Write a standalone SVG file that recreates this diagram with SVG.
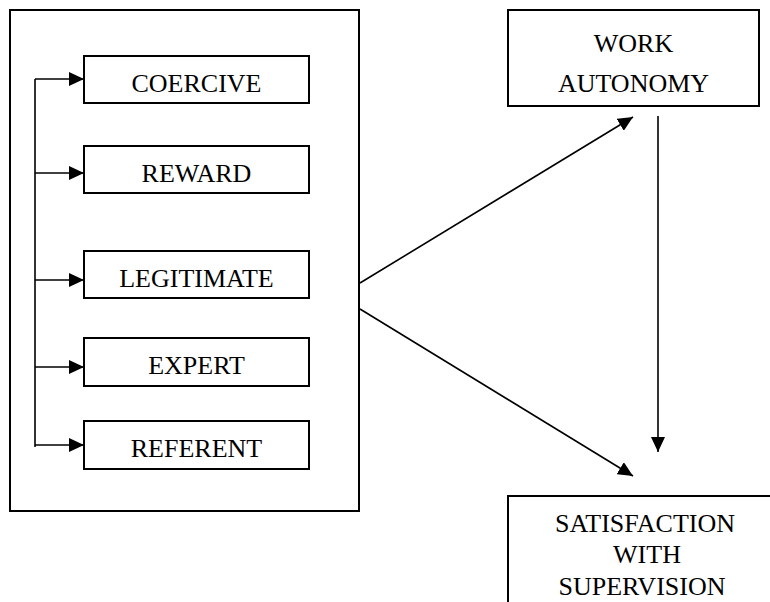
<svg xmlns="http://www.w3.org/2000/svg" width="770" height="602" viewBox="0 0 770 602">
<style>
.box{fill:#fff;stroke:#000;stroke-width:2}
.t{font-family:"Liberation Serif","Times New Roman",serif;font-size:26px;fill:#000;text-anchor:middle}
.c{stroke:#000;stroke-width:1.6;fill:none}
</style>
<defs>
<marker id="ah" markerUnits="userSpaceOnUse" markerWidth="16" markerHeight="14" refX="15" refY="7" orient="auto">
<path d="M0,0 L15,7 L0,14 z" fill="#000"/>
</marker>
</defs>
<rect width="770" height="602" fill="#fff"/>
<g id="group">
<rect class="box" x="10" y="10" width="349" height="501"/>
</g>
<g id="coercive"><rect class="box" x="84" y="56" width="225" height="47"/><text class="t" x="196.5" y="92">COERCIVE</text></g>
<g id="reward"><rect class="box" x="84" y="146" width="225" height="47"/><text class="t" x="196.5" y="182">REWARD</text></g>
<g id="legitimate"><rect class="box" x="84" y="251" width="225" height="47"/><text class="t" x="196.5" y="287">LEGITIMATE</text></g>
<g id="expert"><rect class="box" x="84" y="338" width="225" height="48"/><text class="t" x="196.5" y="374">EXPERT</text></g>
<g id="referent"><rect class="box" x="84" y="421" width="225" height="48"/><text class="t" x="196.5" y="457">REFERENT</text></g>
<g id="work-autonomy"><rect class="box" x="508" y="10" width="251" height="96"/><text class="t" x="633.5" y="52">WORK</text><text class="t" x="633.5" y="92">AUTONOMY</text></g>
<g id="satisfaction"><rect class="box" x="508" y="496" width="300" height="150"/><text class="t" x="645" y="532">SATISFACTION</text><text class="t" x="647" y="563">WITH</text><text class="t" x="642" y="595">SUPERVISION</text></g>
<g id="connectors">
<line class="c" x1="35" y1="79" x2="35" y2="447"/>
<line class="c" x1="35" y1="79" x2="84" y2="79" marker-end="url(#ah)"/>
<line class="c" x1="35" y1="173" x2="84" y2="173" marker-end="url(#ah)"/>
<line class="c" x1="35" y1="280" x2="84" y2="280" marker-end="url(#ah)"/>
<line class="c" x1="35" y1="367" x2="84" y2="367" marker-end="url(#ah)"/>
<line class="c" x1="35" y1="445" x2="84" y2="445" marker-end="url(#ah)"/>
<line class="c" x1="360" y1="283" x2="633" y2="117" marker-end="url(#ah)"/>
<line class="c" x1="360" y1="309" x2="633" y2="476" marker-end="url(#ah)"/>
<line class="c" x1="658" y1="116" x2="658" y2="452" marker-end="url(#ah)"/>
</g>
</svg>
